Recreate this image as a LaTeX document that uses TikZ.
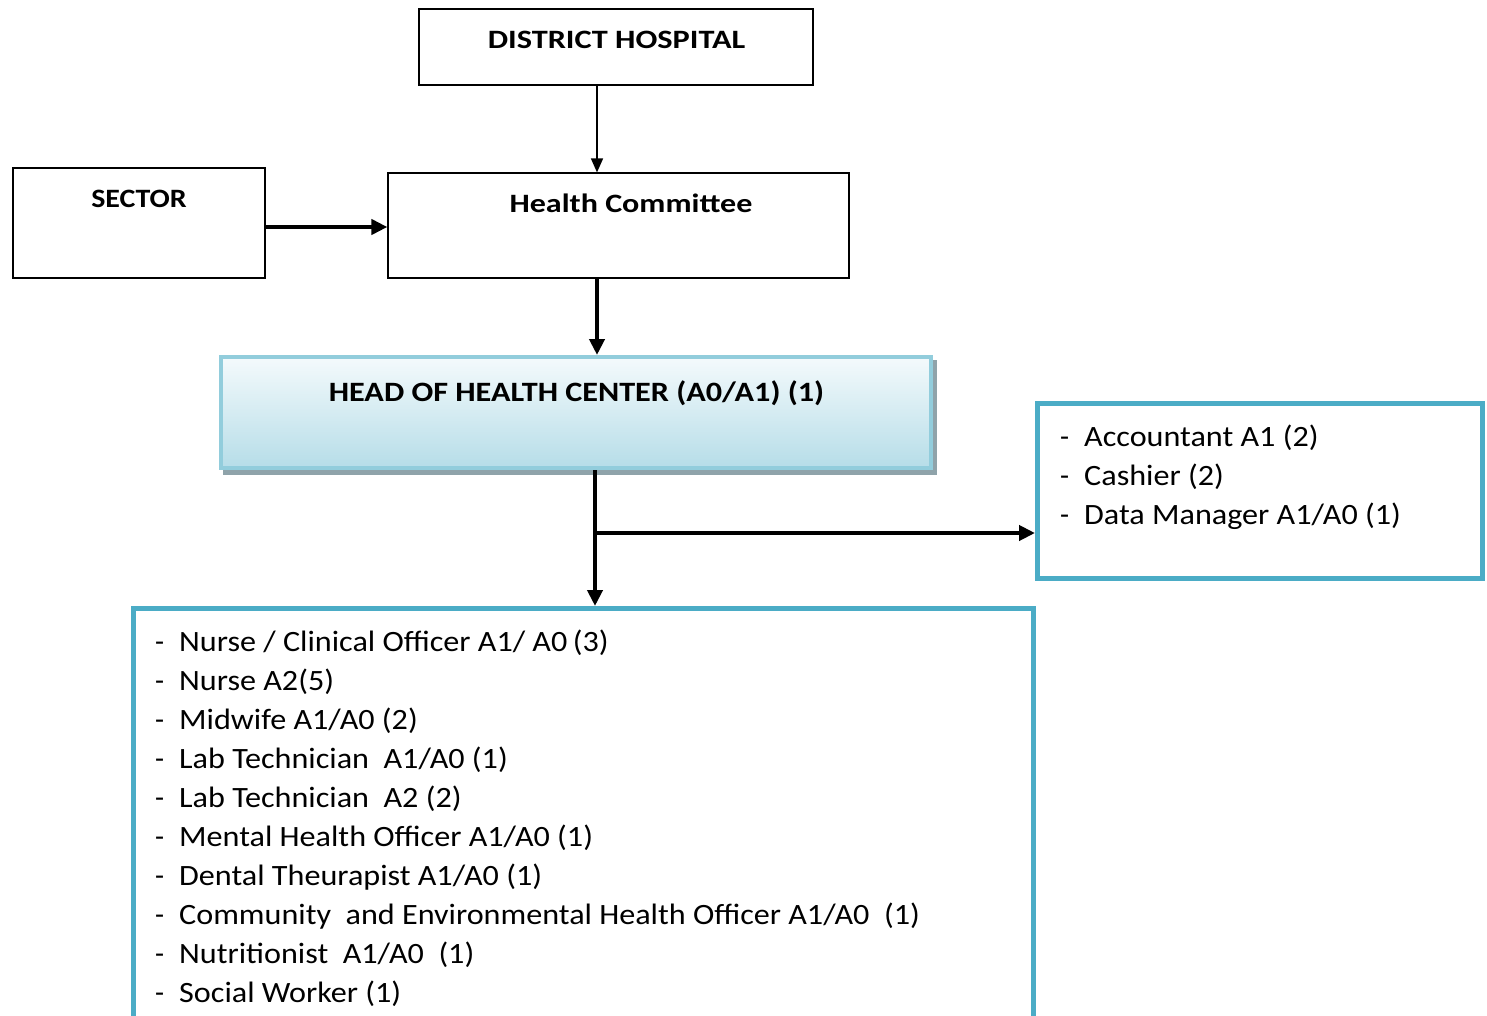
\documentclass[tikz,border=0pt]{standalone}
\usepackage{fontspec}
\usepackage{graphicx}
\setmainfont{Carlito}
\usetikzlibrary{arrows.meta}
\definecolor{boxblue}{HTML}{4BACC6}
\definecolor{headborder}{HTML}{92CDDC}
\definecolor{headtop}{HTML}{F4FAFC}
\definecolor{headbot}{HTML}{B6DDE8}
\definecolor{shadowc}{HTML}{8FA3AA}
\newcommand{\wide}[2]{\scalebox{#1}[1]{#2}}
\begin{document}
\begin{tikzpicture}[x=1pt,y=-1pt,
  plainbox/.style={draw=black,line width=1.2pt,rectangle,inner sep=0pt},
  title/.style={font=\fontsize{26.5}{30}\selectfont\bfseries,anchor=base,inner sep=0pt},
  item/.style={font=\fontsize{29.5}{36}\selectfont,anchor=base west,inner sep=0pt},
  thinarrow/.style={line width=1.5pt,-{Triangle[length=14pt,width=12pt]}},
  thickarrow/.style={line width=4pt,-{Triangle[length=16pt,width=15pt]}},
  bluebox/.style={draw=boxblue,line width=5pt,rectangle,inner sep=0pt}]
\useasboundingbox (0,0) rectangle (1487,1015);
% boxes
\node[plainbox,minimum width=394pt,minimum height=76pt] (dh) at (616,47) {};
\node[plainbox,minimum width=461pt,minimum height=105pt] (hc) at (618.5,225.5) {};
\node[plainbox,minimum width=252pt,minimum height=110pt] (sec) at (139,223) {};
\node[rectangle,fill=shadowc,minimum width=714pt,minimum height=115pt,inner sep=0pt] (headshadow) at (580,417.5) {};
\node[rectangle,draw=headborder,line width=4pt,top color=headtop,bottom color=headbot,minimum width=710pt,minimum height=111pt,inner sep=0pt] (head) at (576,412.5) {};
\node[bluebox,minimum width=445pt,minimum height=175pt] (right) at (1260,491) {};
\node[bluebox,minimum width=900pt,minimum height=440pt] (staff) at (583.5,828.5) {};
% titles
\node[title] (tdh) at (616.5,48.5) {\wide{1.22}{DISTRICT HOSPITAL}};
\node[title] (thc) at (631,212.5) {\wide{1.21}{Health Committee}};
\node[title] (tsec) at (139,207) {\wide{1.13}{SECTOR}};
\node[title,font=\fontsize{28}{32}\selectfont\bfseries] (thead) at (576.5,401) {\wide{1.15}{HEAD OF HEALTH CENTER (A0/A1) (1)}};
% connectors
\coordinate (c1) at (597,0);
\coordinate (c2) at (595,533);
\draw[thinarrow] (dh.south -| c1) -- (hc.north -| c1);
\draw[thickarrow] (sec.east |- 0,227) -- (hc.west |- 0,227);
\draw[thickarrow] (hc.south -| c1) -- (head.north -| c1);
\draw[thickarrow] (head.south -| c2) -- (staff.north -| c2);
\draw[thickarrow] (c2) -- (right.west |- c2);
% right list
\foreach \t [count=\i] in {Accountant A1 (2),Cashier (2),Data Manager A1/A0 (1)}
  \node[item] (r\i) at (1060,446-39+39*\i) {\makebox[24pt][l]{-}\wide{1.09}{\t}};
% staff list
\foreach \t [count=\i] in {Nurse / Clinical Officer A1/ A0\,(3),Nurse A2(5),Midwife A1/A0 (2),Lab Technician\ \ A1/A0 (1),Lab Technician\ \ A2 (2),Mental Health Officer A1/A0 (1),Dental Theurapist A1/A0 (1),Community\ \ and Environmental Health Officer A1/A0\ \ (1),Nutritionist\ \ A1/A0\ \ (1),Social Worker (1)}
  \node[item] (s\i) at (155,651-39+39*\i) {\makebox[24pt][l]{-}\wide{1.09}{\t}};
\end{tikzpicture}
\end{document}
